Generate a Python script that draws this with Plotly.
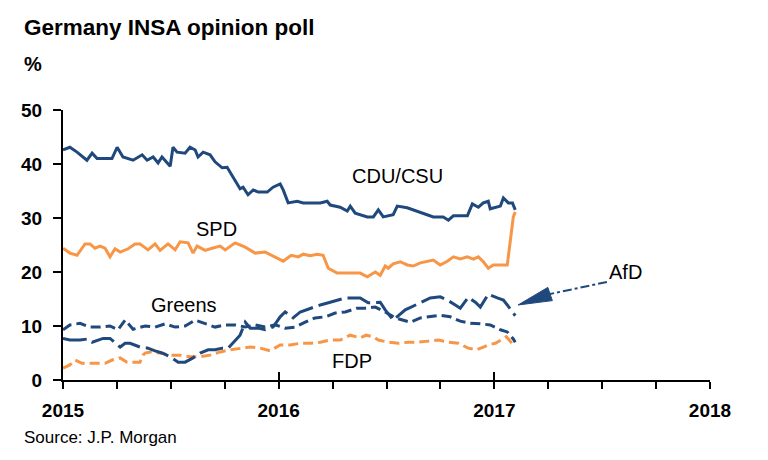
import plotly.graph_objects as go

# ---------------- data (decimal years, % support) ----------------
cdu_x = [2015.000, 2015.032, 2015.065, 2015.111, 2015.135, 2015.158, 2015.227, 2015.251, 2015.278, 2015.325,
         2015.367, 2015.390, 2015.418, 2015.441, 2015.459, 2015.497, 2015.510, 2015.529, 2015.566, 2015.589,
         2015.613, 2015.626, 2015.650, 2015.682, 2015.705, 2015.738, 2015.761, 2015.789, 2015.821, 2015.835,
         2015.858, 2015.882, 2015.905, 2015.947, 2015.974, 2016.007, 2016.021, 2016.044, 2016.086, 2016.114,
         2016.193, 2016.225, 2016.239, 2016.285, 2016.318, 2016.332, 2016.355, 2016.411, 2016.439, 2016.462,
         2016.485, 2016.531, 2016.550, 2016.596, 2016.657, 2016.717, 2016.763, 2016.787, 2016.810, 2016.856,
         2016.875, 2016.898, 2016.926, 2016.949, 2016.972, 2016.981, 2017.005, 2017.028, 2017.042, 2017.065,
         2017.084, 2017.097]
cdu_y = [42.6, 43.1, 42.2, 40.7, 42.0, 41.0, 41.0, 43.1, 41.3, 40.7,
         41.7, 40.7, 41.3, 40.2, 41.3, 39.6, 43.1, 42.2, 42.0, 43.1,
         42.6, 41.3, 42.2, 41.7, 40.4, 39.3, 39.4, 37.6, 35.4, 35.7,
         34.3, 35.2, 34.8, 34.8, 35.7, 36.3, 35.2, 32.8, 33.1, 32.8,
         32.8, 33.1, 32.4, 32.0, 31.3, 32.2, 30.9, 30.2, 30.2, 31.5,
         30.2, 30.6, 32.2, 31.9, 31.1, 30.2, 30.2, 29.6, 30.4, 30.4,
         30.4, 32.6, 32.0, 32.8, 33.1, 31.7, 32.0, 32.2, 33.7, 32.8,
         32.8, 31.5]

spd_x = [2015.000, 2015.032, 2015.065, 2015.102, 2015.125, 2015.148, 2015.172, 2015.195, 2015.218, 2015.241,
         2015.265, 2015.302, 2015.334, 2015.357, 2015.394, 2015.427, 2015.450, 2015.487, 2015.520, 2015.543,
         2015.580, 2015.603, 2015.622, 2015.659, 2015.691, 2015.729, 2015.752, 2015.798, 2015.845, 2015.891,
         2015.937, 2015.984, 2016.021, 2016.058, 2016.091, 2016.114, 2016.146, 2016.179, 2016.206, 2016.230,
         2016.271, 2016.378, 2016.411, 2016.448, 2016.471, 2016.494, 2016.508, 2016.531, 2016.564, 2016.596,
         2016.624, 2016.657, 2016.717, 2016.749, 2016.782, 2016.810, 2016.842, 2016.875, 2016.903, 2016.926,
         2016.949, 2016.972, 2016.995, 2017.060, 2017.088, 2017.097]
spd_y = [24.4, 23.5, 23.1, 25.2, 25.2, 24.4, 24.8, 24.4, 22.8, 24.3,
         23.7, 24.3, 25.2, 25.2, 24.1, 25.2, 24.0, 25.2, 24.1, 25.6,
         25.4, 23.5, 24.8, 24.0, 24.4, 24.8, 24.1, 25.4, 24.6, 23.5,
         23.7, 22.8, 22.0, 23.1, 22.8, 23.3, 23.0, 23.3, 23.1, 20.7,
         19.8, 19.8, 19.1, 20.0, 19.4, 21.1, 20.7, 21.5, 21.9, 21.3,
         21.1, 21.7, 22.2, 21.3, 22.0, 22.8, 22.4, 22.8, 22.4, 22.8,
         21.9, 20.7, 21.3, 21.3, 30.2, 31.1]

grn_x = [2015.000, 2015.032, 2015.079, 2015.125, 2015.172, 2015.218, 2015.255, 2015.288, 2015.325, 2015.381,
         2015.427, 2015.473, 2015.520, 2015.566, 2015.613, 2015.659, 2015.705, 2015.752, 2015.798, 2015.845,
         2015.891, 2015.937, 2015.984, 2016.030, 2016.077, 2016.123, 2016.169, 2016.216, 2016.262, 2016.309,
         2016.364, 2016.401, 2016.448, 2016.494, 2016.541, 2016.610, 2016.657, 2016.749, 2016.796, 2016.842,
         2016.889, 2016.935, 2016.981, 2017.028, 2017.060, 2017.088, 2017.097]
grn_y = [9.3, 10.2, 10.5, 9.8, 9.8, 10.0, 9.3, 11.1, 9.4, 10.0,
         9.8, 10.4, 9.8, 10.0, 11.1, 10.5, 9.8, 10.2, 10.2, 9.8,
         10.2, 9.8, 10.2, 9.6, 9.8, 10.7, 11.5, 11.7, 12.4, 12.6,
         13.3, 13.3, 13.5, 12.6, 11.5, 10.7, 11.5, 12.0, 11.7, 10.9,
         10.5, 10.4, 10.2, 9.3, 8.9, 7.6, 7.0]

afd_x = [2015.000, 2015.032, 2015.079, 2015.116, 2015.135, 2015.186, 2015.218, 2015.241, 2015.265, 2015.288,
         2015.311, 2015.357, 2015.394, 2015.427, 2015.459, 2015.497, 2015.534, 2015.566, 2015.603, 2015.636,
         2015.673, 2015.705, 2015.738, 2015.766, 2015.821, 2015.845, 2015.868, 2015.905, 2015.937, 2015.974,
         2016.007, 2016.030, 2016.067, 2016.100, 2016.146, 2016.193, 2016.239, 2016.309, 2016.378, 2016.415,
         2016.471, 2016.494, 2016.531, 2016.587, 2016.657, 2016.703, 2016.749, 2016.782, 2016.819, 2016.842,
         2016.879, 2016.912, 2016.935, 2016.972, 2017.014, 2017.042, 2017.060, 2017.088, 2017.097]
afd_y = [7.7, 7.4, 7.4, 7.6, 7.0, 7.7, 7.7, 7.0, 6.1, 6.8,
         6.8, 6.1, 5.9, 5.4, 5.0, 4.3, 3.3, 3.3, 4.1, 5.0,
         5.6, 5.6, 5.9, 5.9, 8.3, 10.7, 9.6, 9.6, 9.3, 9.8,
         11.7, 12.6, 11.5, 12.6, 13.3, 13.9, 14.4, 15.2, 15.2, 14.3,
         14.4, 13.0, 11.1, 13.0, 14.3, 15.2, 15.4, 14.8, 13.9, 13.3,
         15.3, 14.4, 13.5, 15.9, 15.2, 14.8, 13.9, 12.4, 11.9]

fdp_x = [2015.000, 2015.032, 2015.056, 2015.088, 2015.148, 2015.195, 2015.228, 2015.265, 2015.297, 2015.334,
         2015.357, 2015.371, 2015.381, 2015.404, 2015.450, 2015.497, 2015.543, 2015.589, 2015.636, 2015.682,
         2015.729, 2015.775, 2015.821, 2015.868, 2015.914, 2015.960, 2016.007, 2016.053, 2016.100, 2016.146,
         2016.193, 2016.239, 2016.285, 2016.332, 2016.378, 2016.406, 2016.439, 2016.462, 2016.508, 2016.555,
         2016.601, 2016.647, 2016.694, 2016.740, 2016.787, 2016.833, 2016.879, 2016.917, 2016.949, 2016.972,
         2017.005, 2017.033, 2017.056, 2017.088]
fdp_y = [2.2, 2.8, 3.7, 3.1, 3.1, 3.1, 3.7, 4.1, 3.3, 3.3,
         3.3, 4.6, 5.0, 5.2, 5.0, 4.6, 4.6, 4.3, 4.3, 4.6,
         5.2, 5.6, 5.9, 6.1, 5.9, 5.4, 6.5, 6.5, 6.8, 6.8,
         7.0, 7.4, 7.4, 8.3, 7.8, 8.3, 8.0, 7.4, 7.0, 6.8,
         7.0, 7.0, 7.2, 7.4, 7.0, 6.8, 5.9, 5.6, 6.1, 6.5,
         6.8, 7.4, 8.0, 6.5]

x_ticks = [2015, 2016, 2017, 2018]
x_labels = ["2015", "2016", "2017", "2018"]
y_ticks = [0, 10, 20, 30, 40, 50]

BLUE = "#1F497D"
ORANGE = "#F79646"
FONT = "Arial, Liberation Sans, sans-serif"

fig = go.Figure()
fig.add_trace(go.Scatter(x=fdp_x, y=fdp_y, mode="lines", name="FDP",
                         line=dict(color=ORANGE, width=3, dash="10px,5px")))
fig.add_trace(go.Scatter(x=grn_x, y=grn_y, mode="lines", name="Greens",
                         line=dict(color=BLUE, width=3, dash="10px,5px")))
fig.add_trace(go.Scatter(x=afd_x, y=afd_y, mode="lines", name="AfD",
                         line=dict(color=BLUE, width=3, dash="24px,6px")))
fig.add_trace(go.Scatter(x=spd_x, y=spd_y, mode="lines", name="SPD",
                         line=dict(color=ORANGE, width=3)))
fig.add_trace(go.Scatter(x=cdu_x, y=cdu_y, mode="lines", name="CDU/CSU",
                         line=dict(color=BLUE, width=3)))
# invisible trace on the overlay axis so its year ticks render
fig.add_trace(go.Scatter(x=[2015], y=[0], xaxis="x2", mode="markers",
                         marker=dict(opacity=0), hoverinfo="skip", showlegend=False))

fig.update_layout(
    width=768, height=460,
    margin=dict(l=55, r=66, t=102, b=88),
    paper_bgcolor="white", plot_bgcolor="white",
    showlegend=False,
    font=dict(family=FONT, color="black"),
    xaxis=dict(range=[2015, 2018], tickvals=x_ticks, ticktext=x_labels,
               ticks="outside", ticklen=7, tickwidth=2, tickcolor="black",
               showline=True, linewidth=2, linecolor="black",
               showgrid=False, zeroline=False, ticklabelstandoff=5,
               tickfont=dict(size=19, family=FONT, weight="bold"),
               minor=dict(dtick=0.25, tick0=2015, ticks="outside", ticklen=7,
                          tickwidth=2, tickcolor="black", showgrid=False)),
    xaxis2=dict(range=[2015, 2018], overlaying="x", anchor="y", side="bottom",
                tickvals=x_ticks, ticks="inside", ticklen=8, tickwidth=2,
                tickcolor="black", showticklabels=False, showline=False,
                showgrid=False, zeroline=False),
    yaxis=dict(range=[0, 50], tickvals=y_ticks,
               ticks="outside", ticklen=8, tickwidth=2, tickcolor="black",
               showline=True, linewidth=2, linecolor="black",
               showgrid=False, zeroline=False, ticklabelstandoff=7,
               tickfont=dict(size=19, family=FONT, weight="bold")),
)

label_font = dict(size=20, family=FONT, color="black")
labels = [("CDU/CSU", 2016.553, 37.8), ("SPD", 2015.714, 28.0),
          ("Greens", 2015.561, 13.9), ("FDP", 2016.34, 3.5), ("AfD", 2017.606, 20.0)]
for txt, lx, ly in labels:
    fig.add_annotation(x=lx, y=ly, text=txt, showarrow=False, font=label_font,
                       xanchor="center", yanchor="middle")

# AfD pointer: dash-dot shaft and filled arrow head
fig.add_shape(type="line", x0=2017.522, y0=18.15, x1=2017.258, y1=15.93,
              line=dict(color=BLUE, width=2, dash="dashdot"))
fig.add_shape(type="path",
              path="M 2017.110 13.89 L 2017.269 14.70 L 2017.248 17.15 Z",
              fillcolor=BLUE, line=dict(color=BLUE, width=1))

fig.add_annotation(xref="paper", yref="paper", x=-0.0634, y=(380 - 28) / 270,
                   text="<b>Germany INSA opinion poll</b>", showarrow=False,
                   xanchor="left", yanchor="middle", font=dict(size=22.5, family=FONT))
fig.add_annotation(xref="paper", yref="paper", x=-0.0634, y=(380 - 64) / 270,
                   text="<b>%</b>", showarrow=False,
                   xanchor="left", yanchor="middle", font=dict(size=20, family=FONT))
fig.add_annotation(xref="paper", yref="paper", x=-0.0634, y=(380 - 437) / 270,
                   text="Source: J.P. Morgan", showarrow=False,
                   xanchor="left", yanchor="middle", font=dict(size=17, family=FONT))

fig.write_html("out.html")
